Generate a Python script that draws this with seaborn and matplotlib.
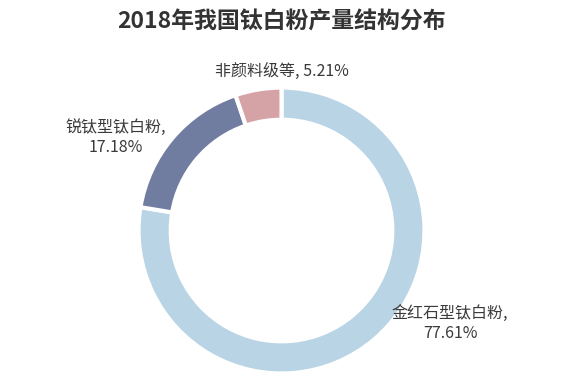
import matplotlib
matplotlib.use("Agg")
import matplotlib.pyplot as plt
import seaborn as sns

# data
categories = ["金红石型钛白粉", "锐钛型钛白粉", "非颜料级等"]
shares = [77.61, 17.18, 5.21]
colors = ["#b9d4e5", "#717ca1", "#d5a2a6"]
title = "2018年我国钛白粉产量结构分布"

# label anchor points (pie radius = 1)
label_pos = [(1.18, -0.65), (-1.16, 0.65), (0.0, 1.11)]
label_text = ["金红石型钛白粉,\n77.61%", "锐钛型钛白粉,\n17.18%", "非颜料级等, 5.21%"]

sns.set_theme(style="white")
plt.rcParams["font.family"] = ["Noto Sans CJK SC", "DejaVu Sans"]

fig = plt.figure(figsize=(5.63, 3.9), dpi=100)
ax = fig.add_axes([0, 0, 1, 1])

wedges, _ = ax.pie(
    shares,
    colors=sns.color_palette(colors),
    startangle=90,
    counterclock=False,
    radius=1.0,
    wedgeprops=dict(width=0.225, edgecolor="white", linewidth=3),
)

for (x, y), txt in zip(label_pos, label_text):
    ax.text(x, y, txt, ha="center", va="center", fontsize=11.5,
            color="#3a3a3a", linespacing=1.25)

ax.set_xlim(-1.969, 1.969)
ax.set_ylim(-1.115, 1.612)
ax.set_aspect("equal", adjustable="box")
ax.axis("off")

fig.text(0.5, 0.944, title, ha="center", va="center", fontsize=16.5,
         fontweight="bold", color="#333333")

fig.savefig("out.png", dpi=100)
